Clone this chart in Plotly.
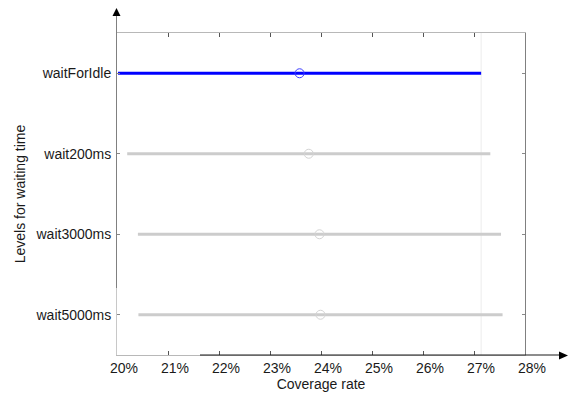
import plotly.graph_objects as go

groups = ["waitForIdle", "wait200ms", "wait3000ms", "wait5000ms"]
means = [23.58, 23.76, 23.97, 23.99]
lower = [20.02, 20.20, 20.41, 20.42]
upper = [27.14, 27.32, 27.53, 27.56]
x_ticks = [20, 21, 22, 23, 24, 25, 26, 27, 28]
selected = "waitForIdle"

W, H = 568, 394
ML, MR, MT, MB = 117, 43, 33, 39
PW, PH = W - ML - MR, H - MT - MB


def px(x):
    return (x - ML) / PW


def py(y):
    return (H - MB - y) / PH


fig = go.Figure()
for g, lo, hi, m in zip(groups, lower, upper, means):
    col = "#0000ff" if g == selected else "#cccccc"
    mcol = "#3c3cff" if g == selected else "#d4d4d4"
    fig.add_trace(go.Scatter(x=[lo, hi], y=[g, g], mode="lines",
                             line=dict(color=col, width=3), hoverinfo="skip",
                             showlegend=False, cliponaxis=True))
    fig.add_trace(go.Scatter(x=[m], y=[g], mode="markers",
                             marker=dict(symbol="circle-open", size=9,
                                         color=mcol, line=dict(width=1)),
                             showlegend=False))

sel_i = groups.index(selected)
shapes = [
    dict(type="line", xref="x", yref="paper", x0=upper[sel_i], x1=upper[sel_i],
         y0=0, y1=1, line=dict(color="#ececec", width=1), layer="below"),
    dict(type="line", xref="paper", yref="paper", x0=px(116.5), x1=px(116.5),
         y0=py(14), y1=1, line=dict(color="#808080", width=1)),
    dict(type="path", xref="paper", yref="paper",
         path=f"M {px(116.5)} {py(8)} L {px(112.5)} {py(16)} L {px(120.5)} {py(16)} Z",
         fillcolor="black", line=dict(width=0)),
    dict(type="line", xref="paper", yref="paper", x0=px(116.5), x1=px(116.5),
         y0=py(288), y1=0, line=dict(color="#c8c8c8", width=1)),
    dict(type="line", xref="paper", yref="paper", x0=px(200), x1=px(561),
         y0=0, y1=0, line=dict(color="#1a1a1a", width=1)),
    dict(type="path", xref="paper", yref="paper",
         path=f"M {px(568)} {py(355.5)} L {px(559)} {py(351.5)} L {px(559)} {py(359.5)} Z",
         fillcolor="black", line=dict(width=0)),
]

font = "Liberation Sans, Arial, sans-serif"
fig.update_layout(
    width=W, height=H,
    margin=dict(l=ML, r=MR, t=MT, b=MB, pad=0),
    paper_bgcolor="white", plot_bgcolor="white",
    font=dict(family=font, size=14, color="#1a1a1a"),
    shapes=shapes,
    xaxis=dict(range=[20, 28], tickvals=x_ticks, ticktext=[f"{t}%" for t in x_ticks],
               showgrid=False, zeroline=False, showline=True, linecolor="#b8b8b8",
               linewidth=1, mirror="ticks", ticks="inside", ticklen=4,
               tickcolor="#555555", ticklabelshift=7, automargin=False,
               title=dict(text="Coverage rate", standoff=4, font=dict(size=14))),
    yaxis=dict(type="category", categoryarray=groups, range=[3.5, -0.5],
               showgrid=False, zeroline=False, showline=True, linecolor="#808080",
               linewidth=1, mirror="ticks", ticks="inside", ticklen=3,
               tickcolor="#888888", automargin=False, ticklabelstandoff=2,
               title=dict(text="Levels for waiting time", standoff=6, font=dict(size=14))),
)

fig.write_html("out.html")
